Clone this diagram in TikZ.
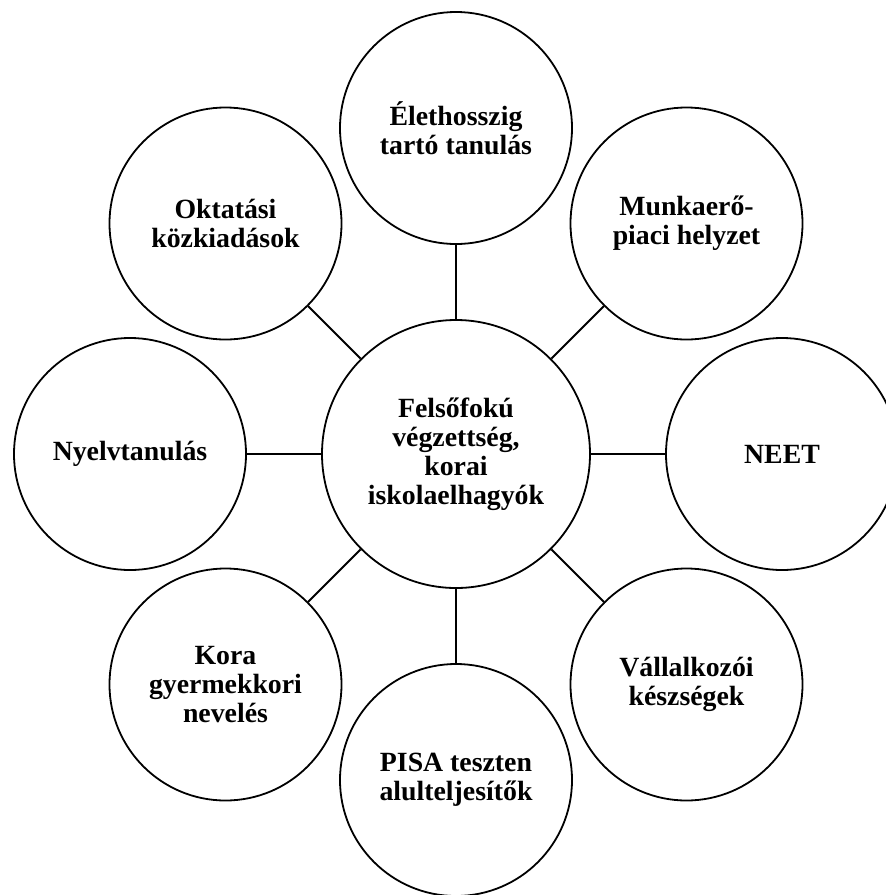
\documentclass[tikz,border=0pt]{standalone}
\usepackage{fontspec}
\setmainfont{Liberation Serif}
\begin{document}
\begin{tikzpicture}[x=10pt,y=10pt]
\tikzstyle{every node}+=[inner sep=0pt]
\tikzstyle{topic}=[draw=black, line width=1.8pt, circle, minimum size=232pt, align=center, font=\fontsize{27.8}{29}\selectfont\bfseries]
\tikzstyle{spoke}=[draw=black, line width=1.8pt]
\clip (0,0) rectangle (88.6,-89.5);
\node [topic, minimum size=268pt] (kozep) at (45.6,-45.4) {Felsőfokú\\végzettség,\\korai\\iskolaelhagyók};
\node [topic] (elethossz) at (45.6,-12.8) {Élethosszig\\tartó tanulás};
\node [topic] (munkaero) at (68.65,-22.35) {Munkaerő-\\piaci helyzet};
\node [topic] (neet) at (78.2,-45.4) {NEET};
\node [topic] (vallalkozoi) at (68.65,-68.45) {Vállalkozói\\készségek};
\node [topic] (pisa) at (45.6,-78) {PISA teszten\\alulteljesítők};
\node [topic] (kora) at (22.55,-68.45) {Kora\\gyermekkori\\nevelés};
\node [topic] (nyelv) at (13,-45.4) {Nyelvtanulás};
\node [topic] (oktatas) at (22.55,-22.35) {Oktatási\\közkiadások};
\draw [spoke] (kozep) -- (elethossz);
\draw [spoke] (kozep) -- (munkaero);
\draw [spoke] (kozep) -- (neet);
\draw [spoke] (kozep) -- (vallalkozoi);
\draw [spoke] (kozep) -- (pisa);
\draw [spoke] (kozep) -- (kora);
\draw [spoke] (kozep) -- (nyelv);
\draw [spoke] (kozep) -- (oktatas);
\end{tikzpicture}
\end{document}
